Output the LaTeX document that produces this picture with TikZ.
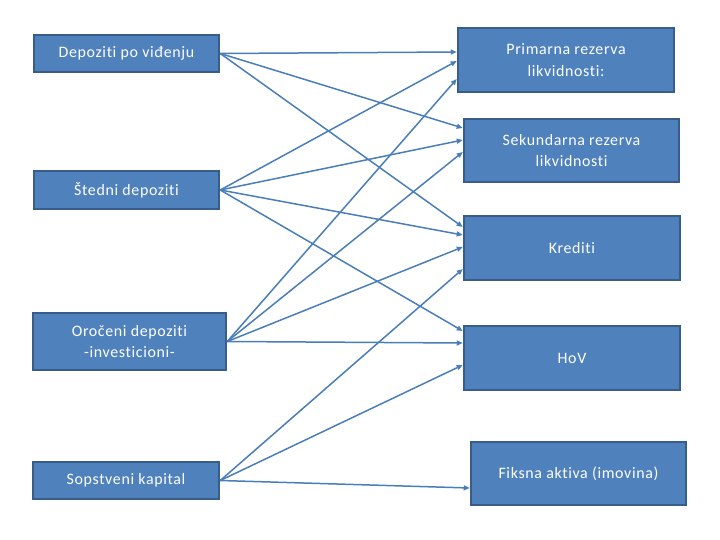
\documentclass[tikz,border=0pt]{standalone}
\usepackage{fontspec}
\setmainfont{Carlito}[Ligatures=NoCommon, LetterSpace=4]
\usetikzlibrary{arrows.meta}
\definecolor{boxfill}{HTML}{4F81BD}
\definecolor{boxline}{HTML}{385D8A}
\definecolor{conn}{HTML}{4A7EBB}
\tikzset{
  box/.style={draw=boxline, line width=2.5bp, fill=boxfill, text=white,
    inner sep=0pt, align=center, font=\fontsize{16}{22}\selectfont},
  link/.style={draw=conn, line width=1.5bp, -{Triangle[length=6bp,width=5bp]}}
}
\begin{document}
\begin{tikzpicture}[x=1bp,y=-1bp]
\useasboundingbox (0,0) rectangle (720,540);
% left
\node[box, minimum width=185bp, minimum height=37bp] (L1) at (126.5,53.5) {Depoziti po viđenju};
\node[box, minimum width=185bp, minimum height=38bp] (L2) at (126.5,190) {Štedni depoziti};
\node[box, minimum width=193bp, minimum height=57bp] (L3) at (129.5,341.5) {Oročeni depoziti\\-investicioni-};
\node[box, minimum width=186bp, minimum height=37bp] (L4) at (126,480.5) {Sopstveni kapital};
% right
\node[box, minimum width=216bp, minimum height=64bp] (R1) at (566,60) {Primarna rezerva\\likvidnosti:};
\node[box, minimum width=215bp, minimum height=63bp] (R2) at (571.5,150.5) {Sekundarna rezerva\\likvidnosti};
\node[box, minimum width=216bp, minimum height=64bp] (R3) at (572,248) {Krediti};
\node[box, minimum width=216bp, minimum height=64bp] (R4) at (572,358) {HoV};
\node[box, minimum width=215bp, minimum height=63bp] (R5) at (578.5,473.5) {Fiksna aktiva (imovina)};
% connectors
\draw[link] (L1.east) -- ([yshift=8bp]R1.west);
\draw[link] (L1.east) -- ([yshift=22.5bp]R2.west);
\draw[link] (L1.east) -- ([yshift=21bp]R3.west);
\draw[link] (L2.east) -- ([yshift=-1bp]R1.west);
\draw[link] (L2.east) -- ([yshift=10.5bp]R2.west);
\draw[link] (L2.east) -- ([yshift=13bp]R3.west);
\draw[link] (L2.east) -- ([yshift=27bp]R4.west);
\draw[link] (L3.east) -- ([yshift=-19bp]R1.west);
\draw[link] (L3.east) -- ([yshift=-1.5bp]R2.west);
\draw[link] (L3.east) -- ([yshift=1bp]R3.west);
\draw[link] (L3.east) -- ([yshift=15bp]R4.west);
\draw[link] (L4.east) -- ([yshift=-21bp]R3.west);
\draw[link] (L4.east) -- ([yshift=-7bp]R4.west);
\draw[link] (L4.east) -- ([yshift=-14.5bp]R5.west);
\end{tikzpicture}
\end{document}
